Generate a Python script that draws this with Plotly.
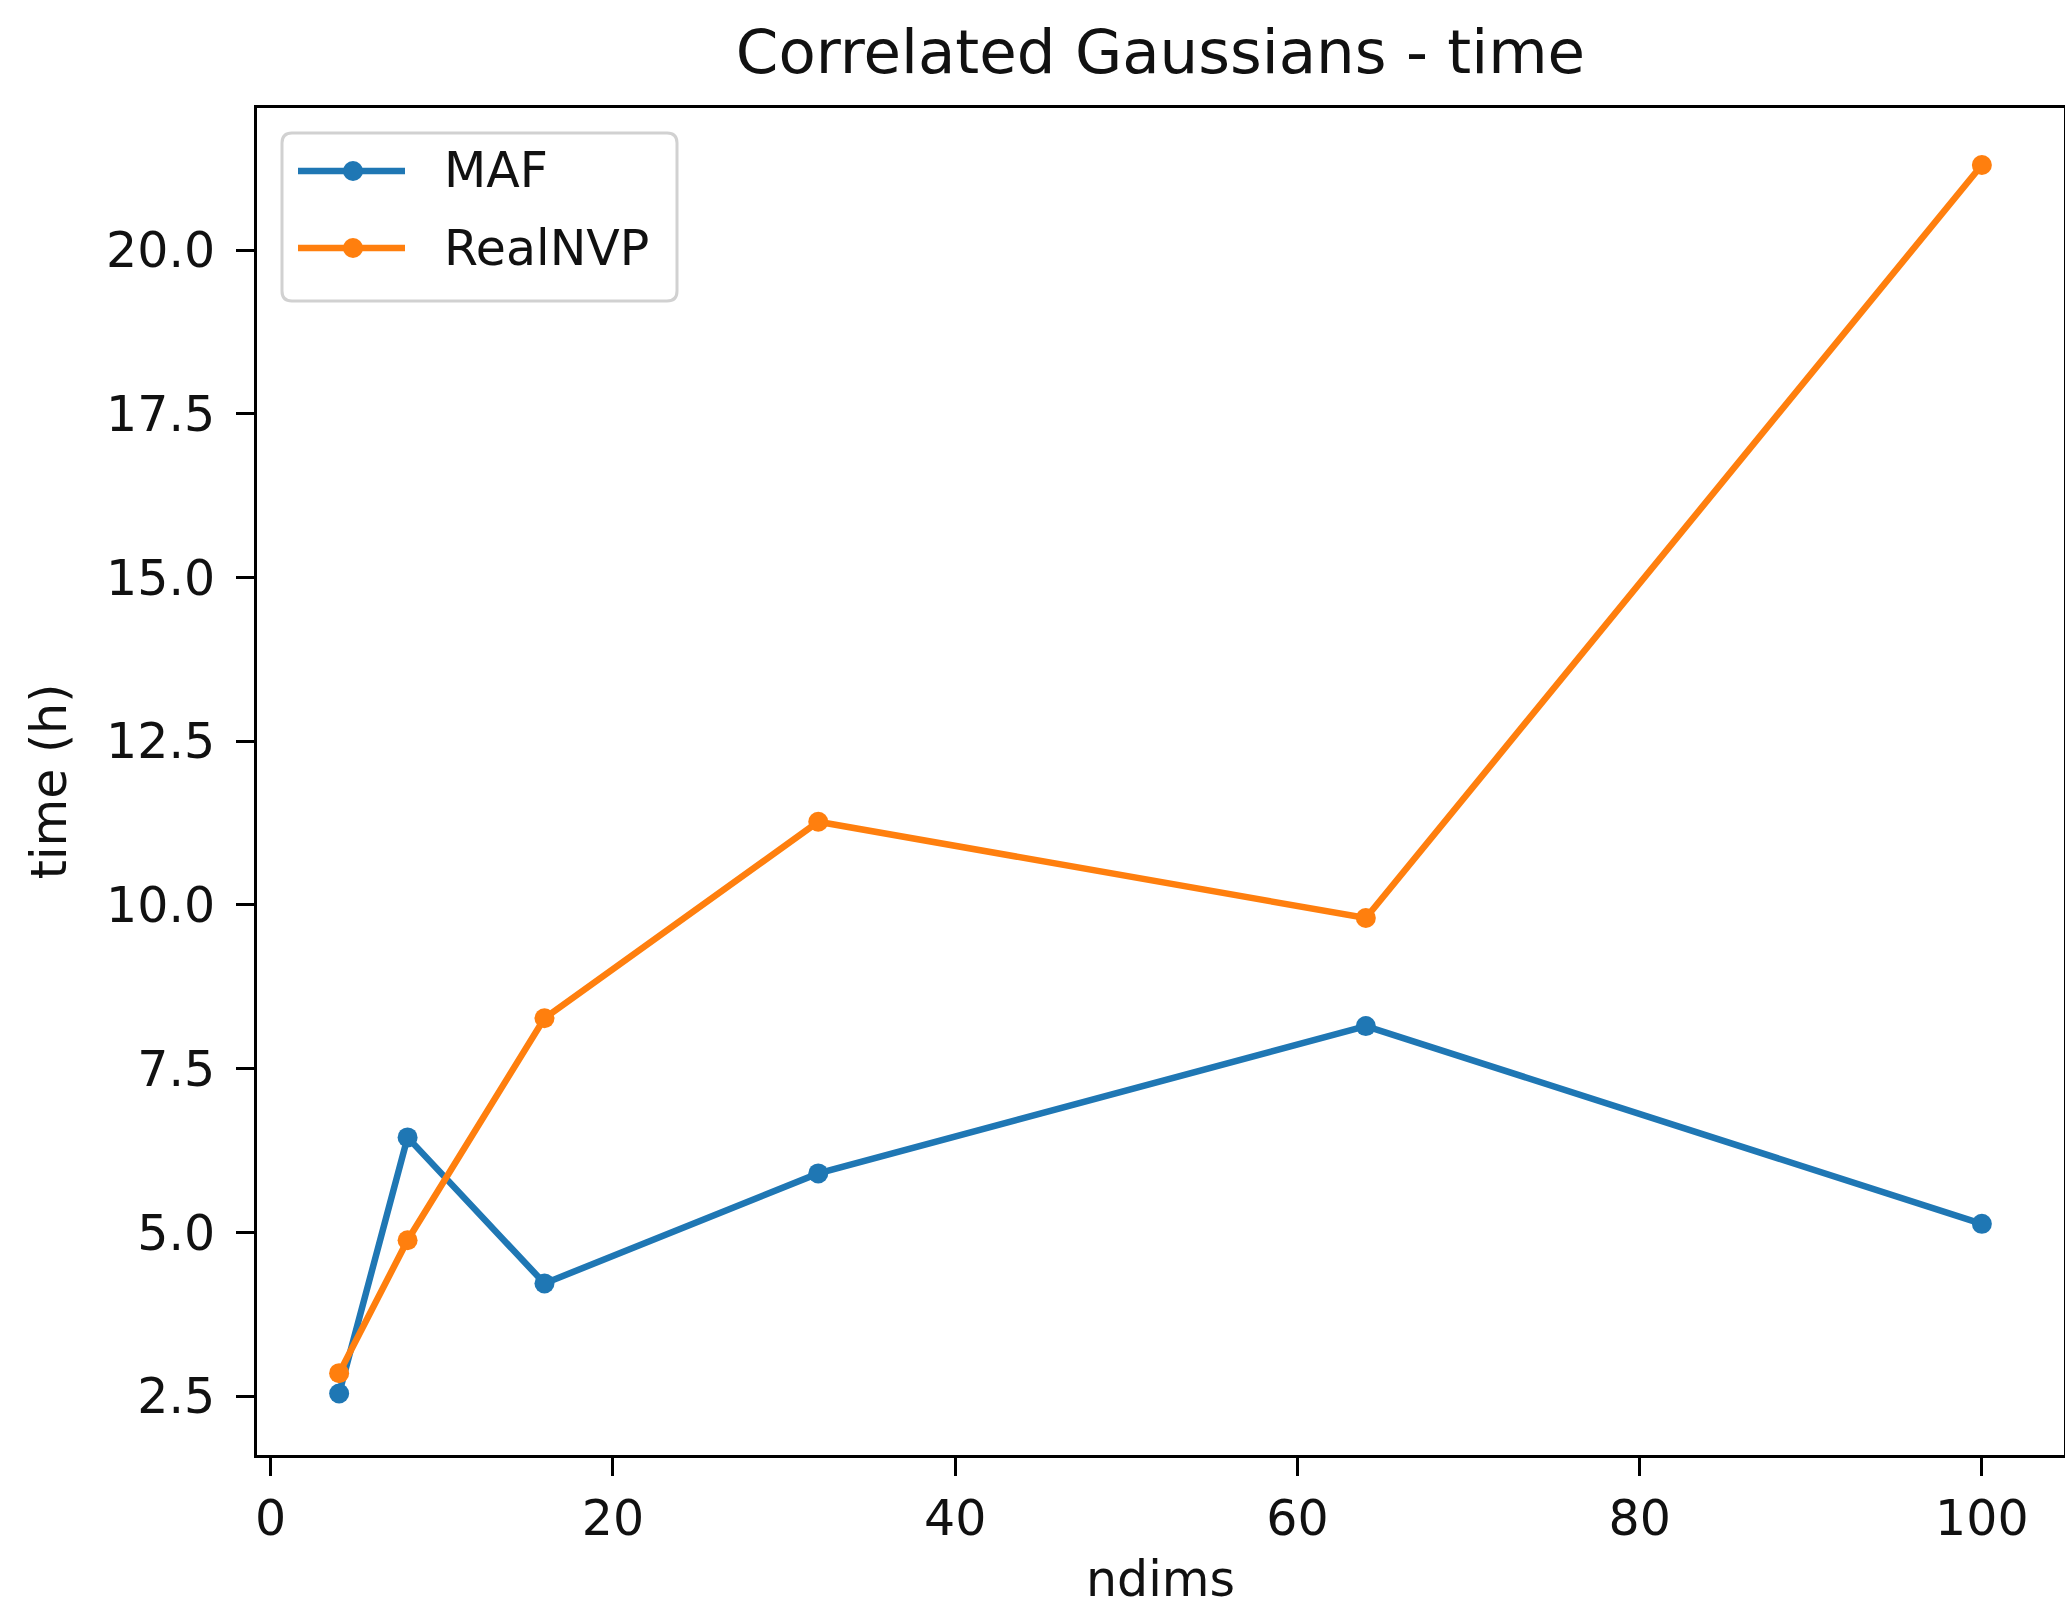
import plotly.graph_objects as go

# Training time per flow model as dimensionality grows
ndims = [4, 8, 16, 32, 64, 100]
maf_time = [2.54, 6.45, 4.22, 5.90, 8.15, 5.13]
realnvp_time = [2.85, 4.88, 8.27, 11.27, 9.80, 21.30]
series_names = ["MAF", "RealNVP"]
series_colors = ["#1f77b4", "#ff7f0e"]

x_ticks = [0, 20, 40, 60, 80, 100]
y_ticks = [2.5, 5.0, 7.5, 10.0, 12.5, 15.0, 17.5, 20.0]

W, H = 2065, 1608
PL, PR, PT, PB = 257, 2064, 108, 1455  # plot area edges in pixels
FONT = "DejaVu Sans"
TICK_SIZE = 49
TEXT_COLOR = "#111111"

fig = go.Figure()
for name, ys, col in zip(series_names, [maf_time, realnvp_time], series_colors):
    fig.add_trace(go.Scatter(
        x=ndims, y=ys, name=name, mode="lines+markers",
        line=dict(color=col, width=6.5),
        marker=dict(color=col, size=20),
        showlegend=False,
    ))


def px_x(p):
    return (p - PL) / (PR - PL)


def px_y(p):
    return (PB - p) / (PB - PT)


# Legend box with rounded corners
bx0, by0, bx1, by1, rad = 282, 133, 677, 301, 10
path = (
    f"M{px_x(bx0 + rad)},{px_y(by0)} L{px_x(bx1 - rad)},{px_y(by0)} "
    f"Q{px_x(bx1)},{px_y(by0)} {px_x(bx1)},{px_y(by0 + rad)} "
    f"L{px_x(bx1)},{px_y(by1 - rad)} "
    f"Q{px_x(bx1)},{px_y(by1)} {px_x(bx1 - rad)},{px_y(by1)} "
    f"L{px_x(bx0 + rad)},{px_y(by1)} "
    f"Q{px_x(bx0)},{px_y(by1)} {px_x(bx0)},{px_y(by1 - rad)} "
    f"L{px_x(bx0)},{px_y(by0 + rad)} "
    f"Q{px_x(bx0)},{px_y(by0)} {px_x(bx0 + rad)},{px_y(by0)} Z"
)
shapes = [dict(type="path", path=path, xref="paper", yref="paper",
               line=dict(color="rgba(204,204,204,0.9)", width=3),
               fillcolor="rgba(255,255,255,0.8)", layer="above")]
annotations = []
rows_y = [171, 248]
for name, col, ry in zip(series_names, series_colors, rows_y):
    shapes.append(dict(type="line", xref="paper", yref="paper",
                       x0=px_x(298), x1=px_x(405), y0=px_y(ry), y1=px_y(ry),
                       line=dict(color=col, width=6.5), layer="above"))
    shapes.append(dict(type="circle", xref="paper", yref="paper",
                       x0=px_x(343), x1=px_x(363), y0=px_y(ry + 10), y1=px_y(ry - 10),
                       fillcolor=col, line=dict(width=0), layer="above"))
    annotations.append(dict(text=name, xref="paper", yref="paper",
                            x=px_x(442), y=px_y(ry), xanchor="left", yanchor="middle",
                            showarrow=False,
                            font=dict(family=FONT, size=TICK_SIZE, color=TEXT_COLOR)))

axis_common = dict(
    showgrid=False, zeroline=False, showline=True, mirror=True,
    linecolor="black", linewidth=3, ticks="outside", ticklen=18,
    tickwidth=3, tickcolor="black",
    tickfont=dict(family=FONT, size=TICK_SIZE, color=TEXT_COLOR),
)

fig.update_layout(
    width=W, height=H,
    margin=dict(l=PL, r=W - PR, t=PT, b=H - PB, autoexpand=False),
    paper_bgcolor="white", plot_bgcolor="white",
    title=dict(text="Correlated Gaussians - time", x=(PL + PR) / 2 / W, xanchor="center",
               y=1 - 52 / H, yanchor="middle",
               font=dict(family=FONT, size=61, color=TEXT_COLOR)),
    xaxis=dict(range=[-0.8, 104.8], tickvals=x_ticks,
               title=dict(text="ndims", standoff=19,
                          font=dict(family=FONT, size=TICK_SIZE, color=TEXT_COLOR)),
               **axis_common),
    yaxis=dict(range=[1.60, 22.17], tickvals=y_ticks, tickformat=".1f",
               ticklabelstandoff=11,
               title=dict(text="time (h)", standoff=24,
                          font=dict(family=FONT, size=TICK_SIZE, color=TEXT_COLOR)),
               **axis_common),
    shapes=shapes,
    annotations=annotations,
    showlegend=False,
)

fig.write_html("out.html")
